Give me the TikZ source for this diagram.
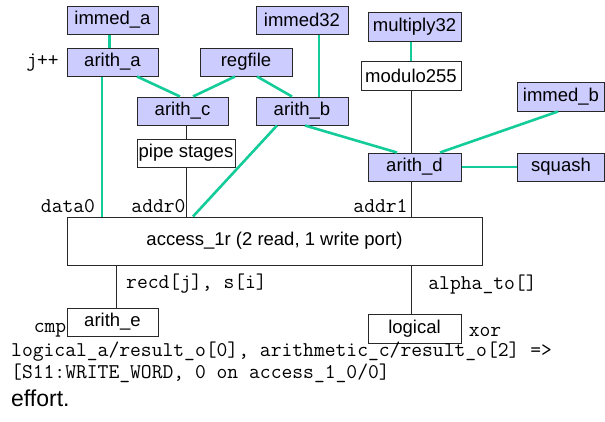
\documentclass[tikz,border=0pt]{standalone}
\usepackage{fontspec}
\setmainfont{Liberation Sans}
\definecolor{wirecol}{RGB}{20,204,153}
\definecolor{unitfill}{RGB}{204,204,255}
\definecolor{edgecol}{RGB}{40,40,40}
\begin{document}
\begin{tikzpicture}[x=1pt,y=-1pt,
  unit/.style={draw=edgecol,fill=unitfill,line width=1pt,inner sep=0pt,minimum height=28pt,font=\fontsize{18.5}{20}\selectfont},
  plain/.style={unit,fill=white},
  sig/.style={inner sep=0pt,font=\fontsize{21}{22}\selectfont\ttfamily},
  wire/.style={wirecol,line width=2.6pt},
  tap/.style={edgecol,line width=1pt}]
\useasboundingbox (0,0) rectangle (605,421);
\node[unit,minimum width=91pt] (immed_a) at (112.5,20) {immed\_a};
\node[unit,minimum width=91pt] (arith_a) at (112.5,62) {arith\_a};
\node[unit,minimum width=92pt] (regfile) at (246,62) {regfile};
\node[unit,minimum width=92pt] (immed32) at (302,20) {immed32};
\node[unit,minimum width=91pt] (arith_c) at (182.5,111) {arith\_c};
\node[unit,minimum width=92pt] (arith_b) at (302,111) {arith\_b};
\node[plain,minimum width=98pt] (pipe) at (186,153) {pipe stages};
\node[unit,minimum width=93pt,minimum height=29pt] (multiply32) at (414.5,26.5) {multiply32};
\node[plain,minimum width=100pt,minimum height=29pt] (modulo255) at (411,75.5) {modulo255};
\node[unit,minimum width=87pt,minimum height=29pt] (immed_b) at (561,96.5) {immed\_b};
\node[unit,minimum width=93pt] (arith_d) at (414.5,167) {arith\_d};
\node[unit,minimum width=87pt] (squash) at (561,167) {squash};
\node[plain,minimum width=415pt,minimum height=48pt] (access) at (274.5,241) {access\_1r (2 read, 1 write port)};
\node[plain,minimum width=91pt] (arith_e) at (112.5,322) {arith\_e};
\node[plain,minimum width=93pt,minimum height=29pt] (logical) at (414.5,328.5) {logical};
\node[sig] (jinc) at (42.5,63) {j++};
\node[sig] (data0) at (68,206) {data0};
\node[sig] (addr0) at (158.5,206) {addr0};
\node[sig] (addr1) at (380.5,206) {addr1};
\node[sig] (recd) at (196.5,284) {recd[j], s[i]};
\node[sig] (alpha) at (482.5,285) {alpha\_to[]};
\node[sig] (cmp) at (50,330) {cmp};
\node[sig] (xor) at (485,332) {xor};
\node[sig,anchor=base west] (result) at (11,356) {logical\_a/result\_o[0], arithmetic\_c/result\_o[2] =>};
\node[sig,anchor=base west] (resultb) at (11,378) {[S11:WRITE\_WORD, 0 on access\_1\_0/0]};
\node[anchor=west,inner sep=0pt,font=\fontsize{23}{24}\selectfont] (effort) at (11,398) {effort.};
\draw[wire] ([xshift=-3pt]immed_a.south) -- ([xshift=-3pt]arith_a.north);
\draw[wire] ([xshift=-10.5pt]arith_a.south) -- ([xshift=-10.5pt]arith_a.south |- access.north);
\draw[wire] ([xshift=24.5pt]arith_a.south) -- ([xshift=-2.5pt]arith_c.north);
\draw[wire] ([xshift=-11pt]regfile.south) -- ([xshift=10.5pt]arith_c.north);
\draw[wire] ([xshift=11pt]regfile.south) -- ([xshift=-10pt]arith_b.north);
\draw[wire] ([xshift=17pt]immed32.south) -- ([xshift=17pt]arith_b.north);
\draw[wire] ([xshift=-25pt]arith_b.south) -- ([xshift=-81.5pt]access.north);
\draw[wire] ([xshift=3pt]arith_b.south) -- ([xshift=-17.5pt]arith_d.north);
\draw[wire] ([xshift=-3pt]immed_b.south) -- ([xshift=25.5pt]arith_d.north);
\draw[wire] (arith_d.east) -- (squash.west);
\draw[wire] (modulo255.north |- multiply32.south) -- (modulo255.north);
\draw[tap] (pipe.north |- arith_c.south) -- (pipe.north);
\draw[tap] (pipe.south) -- (pipe.south |- access.north);
\draw[tap] (modulo255.south) -- (modulo255.south |- arith_d.north);
\draw[tap] (modulo255.south |- arith_d.south) -- (modulo255.south |- access.north);
\draw[tap] ([xshift=3.5pt]arith_e.north |- access.south) -- ([xshift=3.5pt]arith_e.north);
\draw[tap] ([xshift=-3.5pt]logical.north |- access.south) -- ([xshift=-3.5pt]logical.north);
\end{tikzpicture}
\end{document}
